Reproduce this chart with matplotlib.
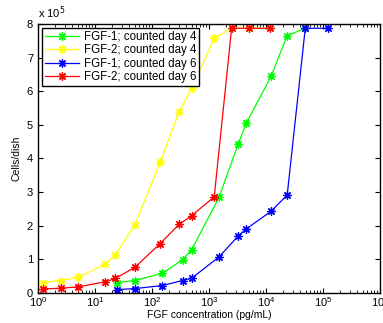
import numpy as np
import matplotlib.pyplot as plt

plt.rcParams['font.family'] = ['Liberation Sans', 'DejaVu Sans']

# FGF concentration (pg/mL)
conc_fgf1 = [24, 50, 152, 346, 500, 1500, 3250, 4500, 12300, 23600, 49000, 124000]
conc_fgf2 = [1.24, 2.5, 5, 15, 22.7, 50, 140, 300, 500, 1240, 2500, 5000, 12000]

# cells/dish in units of 1e5
fgf1_day4 = [0.31, 0.37, 0.58, 0.99, 1.29, 2.84, 4.42, 5.04, 6.44, 7.65, 7.87]
fgf2_day4 = [0.31, 0.37, 0.46, 0.85, 1.13, 2.02, 3.89, 5.39, 6.08, 7.57, 7.87, 7.87, 7.87]
fgf1_day6 = [0.10, 0.13, 0.22, 0.37, 0.44, 1.07, 1.69, 1.90, 2.43, 2.91, 7.87, 7.87]
fgf2_day6 = [0.12, 0.14, 0.18, 0.33, 0.43, 0.76, 1.47, 2.04, 2.30, 2.86, 7.87, 7.87, 7.87]

fig = plt.figure(figsize=(3.83, 3.23), dpi=100)
ax = fig.add_axes([0.099, 0.093, 0.893, 0.833])

mk = dict(marker=(8, 2, 0), markersize=6, linewidth=0.9, markeredgewidth=0.9)
ax.plot(conc_fgf1[:len(fgf1_day4)], fgf1_day4, color='#00ff00', label='FGF-1; counted day 4', **mk)
ax.plot(conc_fgf2, fgf2_day4, color='#ffff00', label='FGF-2; counted day 4', **mk)
ax.plot(conc_fgf1, fgf1_day6, color='#0000ff', label='FGF-1; counted day 6', **mk)
ax.plot(conc_fgf2, fgf2_day6, color='#ff0000', label='FGF-2; counted day 6', **mk)

ax.set_xscale('log')
ax.set_xlim(1, 1e6)
ax.set_ylim(0, 8)
ax.set_yticks(range(0, 9))
ax.set_xticks([10.0**k for k in range(7)])
ax.tick_params(which='both', direction='in', top=True, right=True, labelsize=8)
ax.tick_params(which='major', length=3.5)
ax.tick_params(which='minor', length=2)
ax.tick_params(axis='x', pad=1.5)
for s in ax.spines.values():
    s.set_linewidth(1.0)

ax.set_xlabel('FGF concentration (pg/mL)', fontsize=7.5, labelpad=0.5)
ax.set_ylabel('Cells/dish', fontsize=7.5, labelpad=4)
ax.text(0.0, 1.01, r'x 10$^5$', transform=ax.transAxes, fontsize=8, va='bottom', ha='left')

leg = ax.legend(loc='upper left', fontsize=8.3, fancybox=False, framealpha=1,
                edgecolor='black', borderpad=0.25, labelspacing=0.12,
                handlelength=3, handletextpad=0.4, borderaxespad=0.35)
leg.get_frame().set_linewidth(1.0)

fig.savefig('out.png', dpi=100)
